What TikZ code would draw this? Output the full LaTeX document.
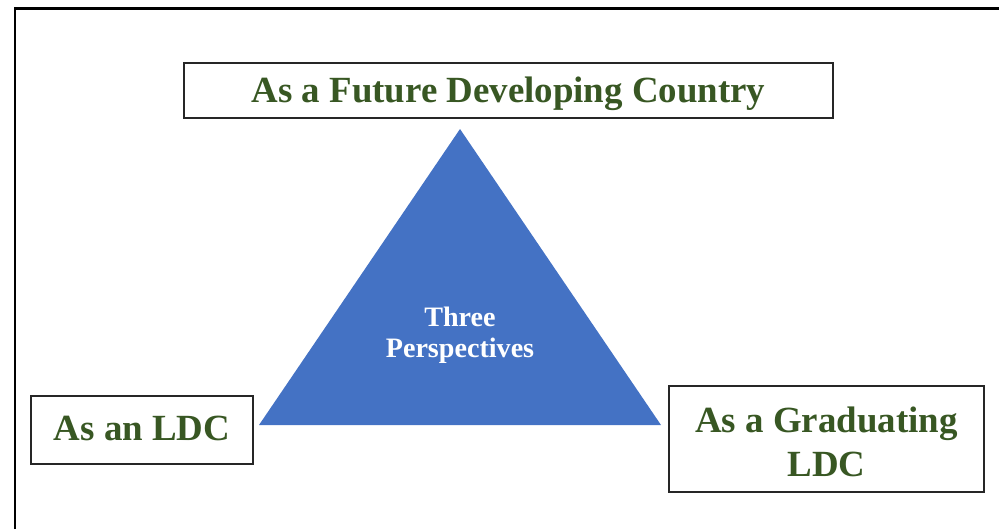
\documentclass[tikz,border=0pt]{standalone}
\usepackage{fontspec}
\setmainfont{Liberation Serif}
\usetikzlibrary{positioning}

\definecolor{leafgreen}{HTML}{385723}
\definecolor{triblue}{HTML}{4472C4}

\tikzset{
  framebox/.style={draw=black!85, line width=0.85pt, inner sep=0pt},
  boxlabel/.style={text=leafgreen, font=\fontsize{21}{25}\selectfont\bfseries, anchor=base, inner sep=0pt, align=center},
  trilabel/.style={text=white, font=\fontsize{16}{17.6}\selectfont\bfseries, anchor=base, inner sep=0pt, align=center}
}

\begin{document}
\begin{tikzpicture}[x=0.02cm, y=-0.02cm]
  \useasboundingbox (0,0) rectangle (999,529);
  % outer frame, only its left and top sides show
  \draw [line width=1.7pt] (15,529) -- (15,8) -- (999,8);

  % the triangle in the middle
  \coordinate (apex) at (460,129);
  \coordinate (baseL) at (259,425);
  \coordinate (baseR) at (661,425);
  \fill [triblue] (apex) -- (baseL) -- (baseR) -- cycle;
  % base anchor of a two-line node sits on its last line
  \node [trilabel] (three) at (460,357) {Three\\Perspectives};

  % the three boxes
  \node [framebox, minimum width=649*0.02cm, minimum height=55*0.02cm] (future) at (508.5,90.5) {};
  \node [boxlabel] (futuretxt) at (508.5,102) {As a Future Developing Country};

  \node [framebox, minimum width=222*0.02cm, minimum height=68*0.02cm] (ldc) at (142,430) {};
  \node [boxlabel] (ldctxt) at (142,440) {As an LDC};

  \node [framebox, minimum width=315*0.02cm, minimum height=106*0.02cm] (grad) at (826.5,439) {};
  \node [boxlabel] (gradtxt) at (826.5,476) {As a Graduating\\LDC};
\end{tikzpicture}
\end{document}
